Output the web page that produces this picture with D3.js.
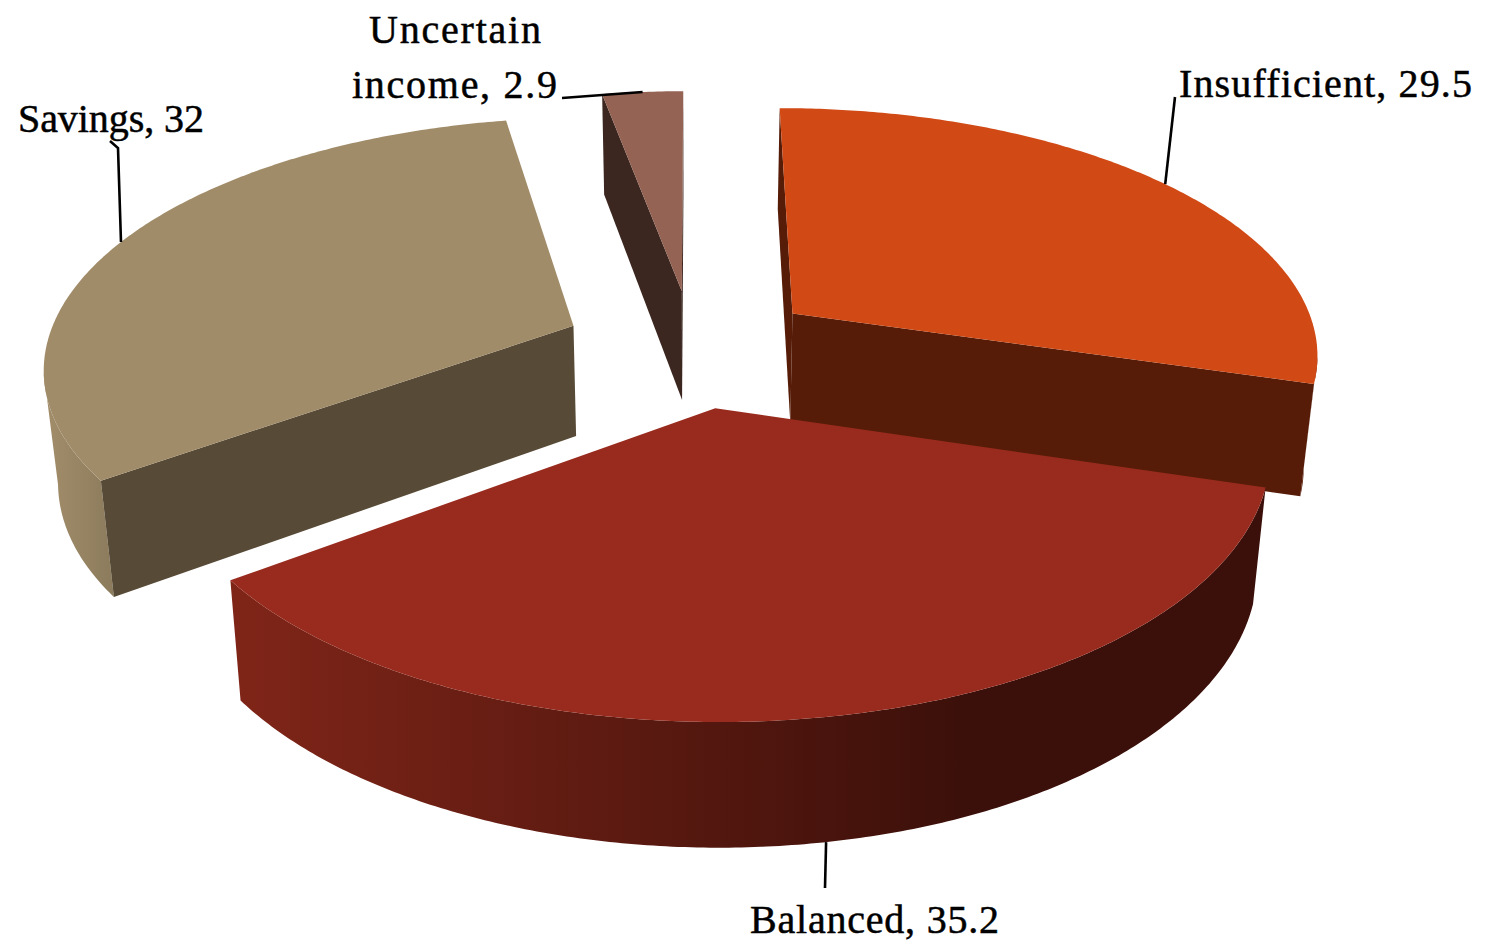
<!DOCTYPE html>
<html>
<head>
<meta charset="utf-8">
<script src="https://cdnjs.cloudflare.com/ajax/libs/d3/7.8.5/d3.min.js"></script>
<style>
  html, body { margin: 0; padding: 0; background: #fff; overflow: hidden; }
  text { font-family: "Liberation Serif", serif; font-size: 40px; fill: #000; stroke: #000; stroke-width: 0.5px; }
</style>
</head>
<body>
<div id="chart"></div>
<script>
// data
var categories = ["Insufficient", "Balanced", "Savings", "Uncertain income"];
var values = [29.5, 35.2, 32, 2.9];

// colours per slice
var topColors = ["#d14a16", "#992b1e", "#a18c69", "#946353"];
var wallColors = ["#561c08", "#3c100a", "#574a36", "#3c2720"];
var rimStart = ["#561c08", "#7f2518", "#a18c69", "#3c2720"];
var rimEnd = ["#561c08", "#3c100a", "#8b7b5c", "#3c2720"];

var width = 1488, height = 943;

// the fake 3d: disc coordinates (u,v) go through a simple perspective
var cx = 693, cy = 348, rx = 528, ry = 246, k = 0.151;
var explode = [0.24, 0.24, 0.247, 0.24], depth = 111, shrink = 0.978;

function project(u, v, lower) {
  var d = 1 + k * v;
  var x = u * rx / d, y = -v * ry / d;
  if (lower) {
    x = x * shrink;
    y = y + depth / Math.pow(d, 0.6);
  }
  return [cx + x, cy + y];
}

var svg = d3.select("#chart").append("svg")
  .attr("width", width)
  .attr("height", height);

var defs = svg.append("defs");
var line = d3.line();

var pie = d3.pie().sort(null).value(function(d) { return d; });
var arcs = pie(values);

// slices drawn back to front
var order = [3, 2, 0, 1];

function apex(d) {
  var m = (d.startAngle + d.endAngle) / 2;
  return [explode[d.index] * Math.sin(m), explode[d.index] * Math.cos(m)];
}
function disc(a, d) {
  var p = apex(d);
  return [p[0] + Math.sin(a), p[1] + Math.cos(a)];
}
function anglesOf(d) {
  var n = Math.ceil((d.endAngle - d.startAngle) / 0.01);
  return d3.range(n + 1).map(function(i) { return d.startAngle + (d.endAngle - d.startAngle) * i / n; });
}
// can the camera see this surface?
function faces(p, nx, ny) {
  return (-p[0]) * nx + (-1 / k - p[1]) * ny > 0;
}

order.forEach(function(i) {
  var d = arcs[i];
  var g = svg.append("g").attr("class", "slice");
  var a0 = apex(d);

  var grad = defs.append("linearGradient")
    .attr("id", "rim" + i)
    .attr("gradientUnits", "userSpaceOnUse")
    .attr("x1", i == 1 ? 240 : 50).attr("x2", i == 1 ? 960 : 115)
    .attr("y1", 0).attr("y2", 0);
  grad.append("stop").attr("offset", 0).attr("stop-color", rimStart[i]);
  grad.append("stop").attr("offset", 1).attr("stop-color", rimEnd[i]);

  // rim, only the part looking at the camera
  var vis = anglesOf(d).filter(function(a) {
    return faces(disc(a, d), Math.sin(a), Math.cos(a));
  });
  if (vis.length > 1) {
    var up = vis.map(function(a) { var p = disc(a, d); return project(p[0], p[1], false); });
    var low = vis.map(function(a) { var p = disc(a, d); return project(p[0], p[1], true); }).reverse();
    g.append("path")
      .attr("d", line(up.concat(low)) + "Z")
      .attr("fill", "url(#rim" + i + ")");
  }

  // the two flat cut faces
  var cuts = [
    {a: d.startAngle, nx: -Math.cos(d.startAngle), ny: Math.sin(d.startAngle)},
    {a: d.endAngle, nx: Math.cos(d.endAngle), ny: -Math.sin(d.endAngle)}
  ];
  cuts.forEach(function(c) {
    if (!faces(a0, c.nx, c.ny)) return;
    var p = disc(c.a, d);
    g.append("path")
      .attr("d", line([
        project(a0[0], a0[1], false), project(p[0], p[1], false),
        project(p[0], p[1], true), project(a0[0], a0[1], true)
      ]) + "Z")
      .attr("fill", wallColors[i]);
  });

  // top face
  var top = [project(a0[0], a0[1], false)].concat(anglesOf(d).map(function(a) {
    var p = disc(a, d);
    return project(p[0], p[1], false);
  }));
  g.append("path")
    .attr("d", line(top) + "Z")
    .attr("fill", topColors[i]);
});

// leader lines start at the middle of each slice's edge
function midPoint(i, lower) {
  var d = arcs[i], m = (d.startAngle + d.endAngle) / 2;
  var p = disc(m, d);
  return project(p[0], p[1], lower);
}

var leaders = [
  {from: midPoint(0, false), to: [[1175, 97]]},
  {from: midPoint(1, true), to: [[825, 888]]},
  {from: midPoint(2, false), to: [[118, 148], [110, 141]]},
  {from: midPoint(3, false), to: [[562, 98]]}
];
svg.append("g").selectAll("path")
  .data(leaders)
  .enter().append("path")
  .attr("d", function(l) { return line([l.from].concat(l.to)); })
  .attr("fill", "none")
  .attr("stroke", "#000")
  .attr("stroke-width", 2.6);

// labels
var labels = [
  {text: categories[0] + ", " + values[0], x: 1179, y: 97, w: 293},
  {text: categories[1] + ", " + values[1], x: 750, y: 933, w: 249},
  {text: categories[2] + ", " + values[2], x: 18, y: 132, w: 186},
  {text: "Uncertain", x: 369, y: 43, w: 172},
  {text: "income, " + values[3], x: 352, y: 98, w: 205}
];
svg.append("g").selectAll("text")
  .data(labels)
  .enter().append("text")
  .attr("x", function(d) { return d.x; })
  .attr("y", function(d) { return d.y; })
  .attr("textLength", function(d) { return d.w; })
  .attr("lengthAdjust", "spacing")
  .text(function(d) { return d.text; });
</script>
</body>
</html>
